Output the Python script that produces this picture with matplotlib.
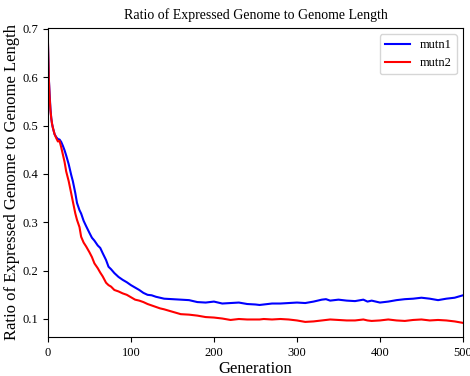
import matplotlib
matplotlib.use("Agg")
import matplotlib.pyplot as plt

plt.rcParams['font.family'] = ['Liberation Serif', 'DejaVu Serif']

generations = [0, 1, 2, 3, 4, 5, 6, 8, 10, 12, 14, 16, 18, 20, 22, 25, 28, 30, 33, 35, 38,
               40, 43, 46, 50, 53, 56, 60, 63, 66, 70, 73, 76, 80, 85, 90, 95, 100, 105,
               110, 115, 120, 125, 130, 135, 140, 150, 160, 170, 180, 190, 200, 210, 220,
               230, 240, 250, 255, 260, 270, 280, 290, 300, 310, 320, 330, 335, 340, 350,
               360, 370, 380, 385, 390, 400, 410, 420, 430, 440, 450, 460, 470, 480, 490, 500]

mutn1 = [0.672, 0.600, 0.565, 0.535, 0.515, 0.503, 0.495, 0.482, 0.476, 0.472, 0.471, 0.466,
         0.458, 0.449, 0.438, 0.420, 0.398, 0.385, 0.360, 0.340, 0.325, 0.318, 0.303, 0.292,
         0.278, 0.268, 0.262, 0.252, 0.247, 0.236, 0.222, 0.208, 0.203, 0.195, 0.187, 0.181,
         0.176, 0.170, 0.165, 0.160, 0.154, 0.150, 0.149, 0.146, 0.144, 0.142, 0.141, 0.140,
         0.139, 0.135, 0.134, 0.136, 0.132, 0.133, 0.134, 0.131, 0.130, 0.129, 0.130, 0.132,
         0.132, 0.133, 0.134, 0.133, 0.136, 0.140, 0.141, 0.138, 0.140, 0.138, 0.137, 0.140,
         0.136, 0.138, 0.134, 0.136, 0.139, 0.141, 0.142, 0.144, 0.142, 0.139, 0.142, 0.144,
         0.149]

mutn2 = [0.674, 0.600, 0.560, 0.532, 0.515, 0.503, 0.495, 0.482, 0.474, 0.467, 0.468, 0.455,
         0.440, 0.425, 0.405, 0.385, 0.360, 0.343, 0.318, 0.305, 0.290, 0.270, 0.258, 0.250,
         0.238, 0.228, 0.215, 0.205, 0.196, 0.188, 0.175, 0.170, 0.167, 0.160, 0.157, 0.153,
         0.150, 0.145, 0.140, 0.138, 0.135, 0.131, 0.128, 0.125, 0.122, 0.120, 0.115, 0.110,
         0.109, 0.107, 0.104, 0.103, 0.101, 0.098, 0.100, 0.099, 0.099, 0.099, 0.100, 0.099,
         0.100, 0.099, 0.097, 0.094, 0.095, 0.097, 0.098, 0.099, 0.098, 0.097, 0.097, 0.099,
         0.097, 0.096, 0.097, 0.099, 0.097, 0.096, 0.098, 0.099, 0.097, 0.098, 0.097, 0.095,
         0.092]

fig = plt.figure(figsize=(4.7, 3.76), dpi=100)
ax = fig.add_axes([0.102, 0.104, 0.883, 0.822])
ax.plot(generations, mutn1, color='blue', lw=1.5, label='mutn1')
ax.plot(generations, mutn2, color='red', lw=1.5, label='mutn2')
ax.set_xlim(0, 500)
ax.set_ylim(0.063, 0.702)
ax.set_xticks([0, 100, 200, 300, 400, 500])
ax.set_yticks([0.1, 0.2, 0.3, 0.4, 0.5, 0.6, 0.7])
ax.tick_params(labelsize=9)
ax.set_title('Ratio of Expressed Genome to Genome Length', fontsize=10)
ax.set_xlabel('Generation', fontsize=12, labelpad=2)
ax.set_ylabel('Ratio of Expressed Genome to Genome Length', fontsize=12, labelpad=2)
ax.legend(loc='upper right', fontsize=9)
fig.savefig('out.png', dpi=100)
